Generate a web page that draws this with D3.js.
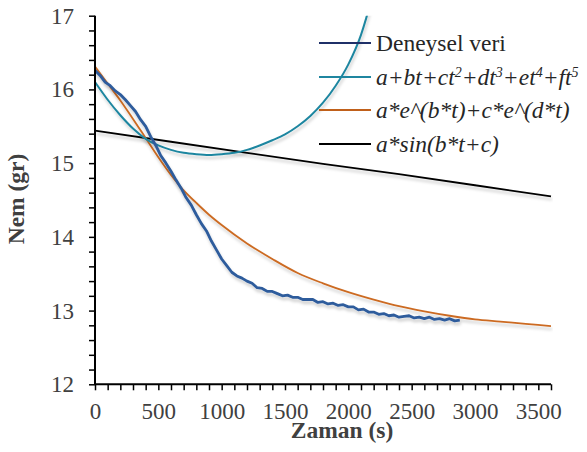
<!DOCTYPE html>
<html>
<head>
<meta charset="utf-8">
<style>
  body { margin: 0; background: #fff; }
  .axis path.domain, .axis line { stroke: #000; }
  .axis path.domain { stroke-width: 2px; }
  .axis line { stroke-width: 1.5px; }
</style>
</head>
<body>
<svg id="graph" width="587" height="452"></svg>
<script src="https://cdnjs.cloudflare.com/ajax/libs/d3/7.8.5/d3.min.js"></script>
<script>
// measured data (Deneysel veri), time in s, mass in gr
var expT = [0, 40, 80, 120, 160, 200, 240, 280, 320, 360, 400, 440, 480, 520, 560, 600,
  640, 680, 720, 760, 800, 840, 880, 920, 960, 1000, 1040, 1080, 1120, 1160, 1200,
  1240, 1280, 1320, 1360, 1400, 1440, 1480, 1520, 1560, 1600, 1640, 1680, 1720, 1760,
  1800, 1840, 1880, 1920, 1960, 2000, 2040, 2080, 2120, 2160, 2200, 2240, 2280, 2320,
  2360, 2400, 2440, 2480, 2520, 2560, 2600, 2640, 2680, 2720, 2760, 2800, 2840, 2880];
var expY = [16.26, 16.19, 16.10, 16.05, 15.98, 15.93, 15.86, 15.78, 15.70, 15.59, 15.50,
  15.36, 15.24, 15.10, 15.00, 14.89, 14.77, 14.66, 14.53, 14.43, 14.30, 14.18, 14.08,
  13.94, 13.82, 13.70, 13.61, 13.52, 13.47, 13.44, 13.40, 13.37, 13.31, 13.30, 13.26,
  13.26, 13.23, 13.20, 13.21, 13.18, 13.18, 13.15, 13.15, 13.15, 13.11, 13.12, 13.09,
  13.10, 13.07, 13.08, 13.05, 13.05, 13.01, 13.02, 12.98, 12.98, 12.95, 12.96, 12.93,
  12.94, 12.91, 12.92, 12.93, 12.90, 12.91, 12.89, 12.91, 12.88, 12.89, 12.87, 12.89,
  12.86, 12.87];

// polynomial fit
var polyT = [0, 100, 200, 300, 400, 500, 600, 700, 800, 900, 1000, 1100, 1200, 1300,
  1400, 1500, 1600, 1700, 1800, 1900, 2000, 2100, 2140, 2160];
var polyY = [16.10, 15.86, 15.65, 15.47, 15.33, 15.24, 15.18, 15.14, 15.12, 15.11, 15.12,
  15.14, 15.18, 15.24, 15.31, 15.39, 15.50, 15.64, 15.82, 16.05, 16.34, 16.74, 16.96, 17.08];

// double exponential fit
var expoT = [0, 100, 200, 300, 400, 500, 600, 700, 800, 900, 1000, 1200, 1400, 1600,
  1800, 2000, 2200, 2400, 2600, 2800, 3000, 3200, 3400, 3600];
var expoY = [16.31, 16.08, 15.85, 15.60, 15.34, 15.08, 14.84, 14.63, 14.46, 14.30, 14.16,
  13.91, 13.70, 13.51, 13.37, 13.25, 13.15, 13.06, 12.99, 12.93, 12.88, 12.85, 12.82, 12.79];

// sine fit
var sinT = [0, 600, 1200, 1800, 2400, 3000, 3600];
var sinY = [15.44, 15.29, 15.14, 14.99, 14.85, 14.70, 14.55];

var xTicks = [0, 500, 1000, 1500, 2000, 2500, 3000, 3500];
var yTicks = [12, 13, 14, 15, 16, 17];

var seriesNames = ["Deneysel veri", "a+bt+ct", "a*e^(b*t)+c*e^(d*t)", "a*sin(b*t+c)"];
var polyParts = [["a+bt+ct", "2"], ["+dt", "3"], ["+et", "4"], ["+ft", "5"]];

var serif = "Liberation Serif";
var svg = d3.select("#graph");

var xScale = d3.scaleLinear().domain([0, 3600]).range([95, 551]);
var yScale = d3.scaleLinear().domain([12, 17]).range([384.3, 15.7]);

var defs = svg.append("defs");
var shadow = defs.append("filter").attr("id", "shadow")
  .attr("x", "-5%").attr("y", "-5%").attr("width", "110%").attr("height", "130%");
shadow.append("feDropShadow")
  .attr("dx", 1).attr("dy", 3).attr("stdDeviation", 1.6)
  .attr("flood-color", "#000").attr("flood-opacity", 0.2);

defs.append("clipPath").attr("id", "plot")
  .append("rect")
    .attr("x", xScale(0)).attr("y", yScale(17))
    .attr("width", xScale(3600) - xScale(0) + 2)
    .attr("height", yScale(12) - yScale(17));

var line = d3.line()
  .x(d => xScale(d[0]))
  .y(d => yScale(d[1]));

function pairs(ts, ys) { return ts.map((t, i) => [t, ys[i]]); }

var curves = [
  { data: pairs(sinT, sinY), color: "#000000", width: 1.8, curve: d3.curveLinear },
  { data: pairs(expoT, expoY), color: "#cc6b22", width: 1.8, curve: d3.curveMonotoneX },
  { data: pairs(polyT, polyY), color: "#1f86a0", width: 2, curve: d3.curveMonotoneX },
  { data: pairs(expT, expY), color: "#2d5b9c", width: 2.8, curve: d3.curveLinear }
];

var plot = svg.append("g").attr("clip-path", "url(#plot)");
plot.selectAll("path.curve")
  .data(curves).enter()
  .append("path")
    .attr("class", "curve")
    .attr("d", d => line.curve(d.curve)(d.data))
    .attr("fill", "none")
    .attr("stroke", d => d.color)
    .attr("stroke-width", d => d.width)
    .attr("stroke-linejoin", "round")
    .attr("filter", "url(#shadow)");

// axes
var xAxis = d3.axisBottom(xScale)
  .tickValues(d3.range(0, 3601, 100))
  .tickSize(6)
  .tickFormat(d => xTicks.indexOf(d) >= 0 ? d : "");
var yAxis = d3.axisLeft(yScale)
  .tickValues(d3.range(12, 17.01, 0.2))
  .tickSize(6)
  .tickFormat(d => "");

svg.append("g").attr("class", "axis").attr("id", "xAxis")
  .attr("transform", "translate(0," + yScale(12) + ")")
  .call(xAxis)
  .call(g => g.select(".domain").attr("d", "M" + xScale(0) + ",0H" + xScale(3600)))
  .attr("font-family", serif).attr("font-size", 23);
svg.append("g").attr("class", "axis").attr("id", "yAxis")
  .attr("transform", "translate(" + xScale(0) + ",0)")
  .call(yAxis)
  .call(g => g.select(".domain").attr("d", "M0," + yScale(12) + "V" + yScale(17)));

d3.select("#xAxis").selectAll("text")
  .attr("y", 35).attr("dy", 0)
  .attr("font-family", serif).attr("font-size", 23)
  .attr("fill", "#404040");

svg.append("g").selectAll("text")
  .data(yTicks).enter()
  .append("text")
    .attr("x", 74)
    .attr("y", d => yScale(d))
    .attr("dy", "0.35em")
    .attr("text-anchor", "end")
    .attr("font-family", serif).attr("font-size", 23)
    .attr("fill", "#404040")
    .text(d => d);

// axis titles
svg.append("text")
  .attr("x", 342).attr("y", 438)
  .attr("text-anchor", "middle")
  .attr("font-family", serif).attr("font-size", 23.5).attr("font-weight", "bold")
  .attr("fill", "#404040")
  .text("Zaman (s)");
svg.append("text")
  .attr("transform", "translate(24,199) rotate(-90)")
  .attr("text-anchor", "middle")
  .attr("font-family", serif).attr("font-size", 23.5).attr("font-weight", "bold")
  .attr("fill", "#404040")
  .text("Nem (gr)");

// legend
var legendRows = [
  { y: 43, color: "#1f3068" },
  { y: 77, color: "#1f86a0" },
  { y: 110, color: "#c0601a" },
  { y: 144, color: "#000000" }
];
var legend = svg.append("g")
  .attr("font-family", serif).attr("font-size", 23.5).attr("fill", "#262626");
legend.selectAll("line")
  .data(legendRows).enter()
  .append("line")
    .attr("x1", 319).attr("x2", 371)
    .attr("y1", d => d.y).attr("y2", d => d.y)
    .attr("stroke", d => d.color)
    .attr("stroke-width", 2);

legend.append("text")
  .attr("x", 376).attr("y", 43).attr("dy", "0.35em")
  .text(seriesNames[0]);

var poly = legend.append("text")
  .attr("x", 376).attr("y", 85)
  .attr("font-style", "italic");
polyParts.forEach(function(p, i) {
  poly.append("tspan").attr("dy", i == 0 ? 0 : 8).text(p[0]);
  poly.append("tspan").attr("dy", -8).attr("font-size", 14).text(p[1]);
});

legend.append("text")
  .attr("x", 376).attr("y", 110).attr("dy", "0.35em")
  .attr("font-style", "italic")
  .text(seriesNames[2]);
legend.append("text")
  .attr("x", 376).attr("y", 144).attr("dy", "0.35em")
  .attr("font-style", "italic")
  .text(seriesNames[3]);
</script>
</body>
</html>
